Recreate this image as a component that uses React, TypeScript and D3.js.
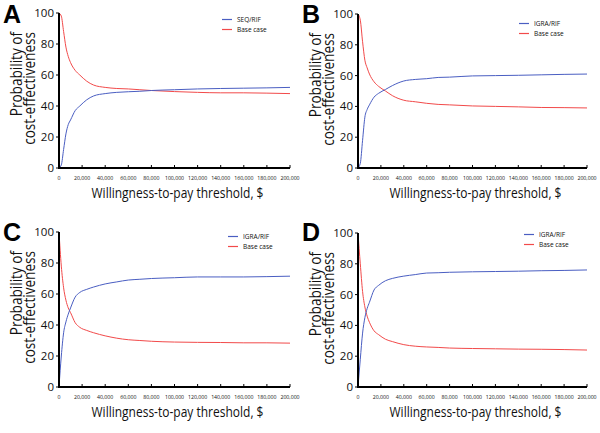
import React from "react";
import * as d3 from "d3";

const wtpGrid = [0, 2000, 4000, 6000, 8000, 10000, 14000, 18000, 24000, 30000, 40000, 50000, 60000, 70000, 80000, 100000, 120000, 140000, 160000, 180000, 200000];

const panelLetters = ["A", "B", "C", "D"];
const strategyNames = ["SEQ/RIF", "IGRA/RIF", "IGRA/RIF", "IGRA/RIF"];
const baseName = "Base case";

const strategyA = [0, 2, 12, 22, 28, 31, 37, 40, 44, 46.5, 48, 48.8, 49.2, 49.5, 50, 50.5, 51, 51.3, 51.5, 51.7, 52];
const baseA = [100, 98, 88, 78, 72, 68, 63, 60, 56, 53.5, 52, 51.3, 51, 50.5, 50, 49.3, 48.8, 48.5, 48.5, 48.3, 48];
const strategyB = [0, 3, 18, 33, 38, 41, 46, 48.5, 51, 53.5, 56.5, 57.5, 58, 58.8, 59, 59.8, 60, 60.2, 60.5, 60.8, 61];
const baseB = [100, 96, 82, 70, 65, 61, 56, 53, 50, 47, 44, 43, 42, 41.3, 41, 40.3, 40, 39.7, 39.3, 39.2, 39];
const strategyC = [0, 20, 35, 42, 47, 51, 58, 61, 63, 64.5, 66.5, 67.8, 69, 69.5, 70, 70.5, 71, 71, 71, 71.2, 71.5];
const baseC = [100, 78, 64, 56, 51, 48, 41.5, 38.5, 36.5, 35, 33, 31.5, 30.5, 30, 29.5, 29, 28.8, 28.7, 28.5, 28.5, 28.3];
const strategyD = [0, 18, 35, 45, 51, 55, 63, 66, 69, 70.5, 72, 73, 74, 74.2, 74.5, 74.8, 75, 75.2, 75.5, 75.7, 76];
const baseD = [100, 80, 62, 52, 46, 42, 36.5, 34, 31, 29.5, 27.5, 26.5, 26, 25.7, 25.3, 25, 24.8, 24.6, 24.5, 24.3, 24];

const strategySeries = [strategyA, strategyB, strategyC, strategyD];
const baseSeries = [baseA, baseB, baseC, baseD];

const yTicks = [0, 20, 40, 60, 80, 100];
const xTicks = [0, 20000, 40000, 60000, 80000, 100000, 120000, 140000, 160000, 180000, 200000];

const xTitle = "Willingness-to-pay threshold, $";
const yTitle1 = "Probability of";
const yTitle2 = "cost-effectiveness";

const BLUE = "#4a5ec2";
const RED = "#f24a4a";

// layout per panel
const layouts = [
  { left: 59, right: 290, top: 13, bottom: 168, legX: 222, legY: 19.5, letterX: 3, letterY: 23 },
  { left: 358, right: 587, top: 14, bottom: 168, legX: 519, legY: 23.5, letterX: 302, letterY: 23 },
  { left: 59, right: 290, top: 232, bottom: 387, legX: 228, legY: 236.5, letterX: 3, letterY: 241 },
  { left: 358, right: 587, top: 233, bottom: 387, legX: 524, legY: 234.5, letterX: 302, letterY: 241 },
];

const FONT = "'Open Sans', 'Liberation Sans', sans-serif";

function Panel({ idx }: { idx: number }) {
  const L = layouts[idx];
  const x = d3.scaleLinear().domain([0, 200000]).range([L.left, L.right]);
  const y = d3.scaleLinear().domain([0, 100]).range([L.bottom, L.top]);
  const line = d3
    .line<number>()
    .x((_, i) => x(wtpGrid[i]))
    .y((v) => y(v))
    .curve(d3.curveMonotoneX);
  const fmt = d3.format(",");
  const titleTop = L.top + 19;
  const midX = (L.left + L.right) / 2 + 3;
  return (
    <g>
      <text x={L.letterX} y={L.letterY} fontFamily="'Liberation Sans', Arial, sans-serif" fontWeight="bold" fontSize={25} fill="#000">
        {panelLetters[idx]}
      </text>
      {/* y title */}
      <text transform={`translate(${L.left - 37},${titleTop}) rotate(-90) scale(0.8,1)`} textAnchor="end" fontFamily={FONT} fontSize={17} fill="#111">
        {yTitle1}
      </text>
      <text transform={`translate(${L.left - 24},${titleTop}) rotate(-90) scale(0.8,1)`} textAnchor="end" fontFamily={FONT} fontSize={17} fill="#111">
        {yTitle2}
      </text>
      {/* y ticks */}
      {yTicks.map((t) => (
        <g key={t}>
          <line x1={L.left - 3} x2={L.left} y1={y(t)} y2={y(t)} stroke="#000" strokeWidth={1} />
          <text x={L.left - 5} y={y(t) + 4} textAnchor="end" fontFamily={FONT} fontSize={11.5} fill="#111">
            {t}
          </text>
        </g>
      ))}
      {/* x ticks */}
      {xTicks.map((t) => (
        <g key={t}>
          <line x1={x(t)} x2={x(t)} y1={L.bottom} y2={L.bottom - 3} stroke="#000" strokeWidth={1} />
          <text x={x(t)} y={L.bottom + 11.5} textAnchor="middle" fontFamily={FONT} fontSize={5.2} fill="#111">
            {fmt(t)}
          </text>
        </g>
      ))}
      <text transform={`translate(${midX},${L.bottom + 30}) scale(0.8,1)`} textAnchor="middle" fontFamily={FONT} fontSize={15} fill="#111">
        {xTitle}
      </text>
      {/* series */}
      <path d={line(baseSeries[idx]) || ""} fill="none" stroke={RED} strokeWidth={1} />
      <path d={line(strategySeries[idx]) || ""} fill="none" stroke={BLUE} strokeWidth={1} />
      {/* axes */}
      <line x1={L.left} x2={L.left} y1={L.top} y2={L.bottom} stroke="#000" strokeWidth={2} />
      <line x1={L.left - 1} x2={L.right} y1={L.bottom} y2={L.bottom} stroke="#000" strokeWidth={2} />
      {/* legend */}
      <line x1={L.legX} x2={L.legX + 10} y1={L.legY} y2={L.legY} stroke={BLUE} strokeWidth={1.2} />
      <text x={L.legX + 15} y={L.legY + 2.3} fontFamily={FONT} fontSize={6.5} fill="#111">
        {strategyNames[idx]}
      </text>
      <line x1={L.legX} x2={L.legX + 10} y1={L.legY + 10} y2={L.legY + 10} stroke={RED} strokeWidth={1.2} />
      <text x={L.legX + 15} y={L.legY + 12.3} fontFamily={FONT} fontSize={6.5} fill="#111">
        {baseName}
      </text>
    </g>
  );
}

export default function App() {
  return (
    <svg width={600} height={433} style={{ position: "absolute", left: 0, top: 0, background: "#fff" }}>
      <rect width={600} height={433} fill="#fff" />
      {[0, 1, 2, 3].map((i) => (
        <Panel key={i} idx={i} />
      ))}
    </svg>
  );
}
